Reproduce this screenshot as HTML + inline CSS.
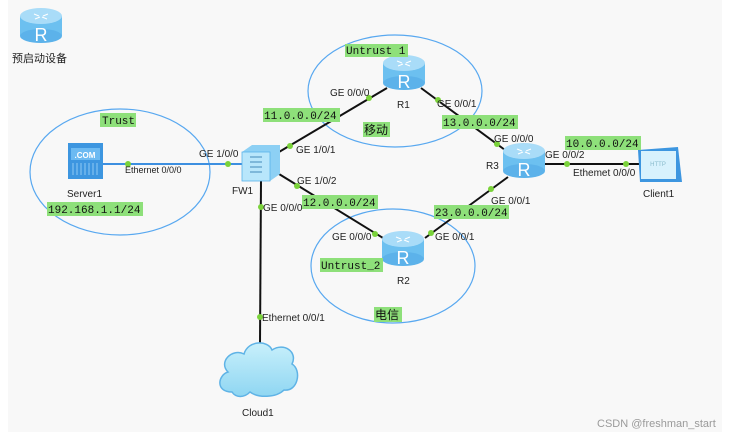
<!DOCTYPE html>
<html><head><meta charset="utf-8"><style>
html,body{margin:0;padding:0;background:#fff;}
svg{display:block;}
text{font-family:"Liberation Sans","Noto Sans CJK SC",sans-serif;font-size:10px;fill:#222;}
.m{font-family:"Liberation Mono","Noto Sans CJK SC",monospace;font-size:11px;fill:#111;}
</style></head><body>
<svg width="741" height="439" viewBox="0 0 741 439" xmlns="http://www.w3.org/2000/svg">
<defs>
<linearGradient id="rg" x1="0" y1="0" x2="0" y2="1"><stop offset="0" stop-color="#bfe6fb"/><stop offset="1" stop-color="#4fb0ec"/></linearGradient>
<linearGradient id="cg" x1="0" y1="0" x2="0" y2="1"><stop offset="0" stop-color="#c8f0fb"/><stop offset="1" stop-color="#8fd6f2"/></linearGradient>
<g id="router">
<rect x="0" y="8" width="42" height="20" fill="#6cc0f0"/>
<ellipse cx="21" cy="28" rx="21" ry="7" fill="#5cb2ea"/>
<ellipse cx="21" cy="8" rx="21" ry="8" fill="#a9dcf8"/>
<text x="21" y="33" text-anchor="middle" style="font-size:18px;fill:#fff;font-family:'Liberation Sans',sans-serif">R</text>
<path d="M14 6l5 2M28 6l-5 2M15 11l5-2M27 11l-5-2" stroke="#fff" stroke-width="1"/>
</g>
</defs>
<rect x="8" y="0" width="714" height="432" fill="#f8f8f8"/>

<!-- ellipses -->
<ellipse cx="120" cy="172" rx="90" ry="63" fill="none" stroke="#58a8f0" stroke-width="1.2"/>
<ellipse cx="395" cy="91" rx="87" ry="56" fill="none" stroke="#58a8f0" stroke-width="1.2"/>
<ellipse cx="393" cy="266" rx="82" ry="57" fill="none" stroke="#58a8f0" stroke-width="1.2"/>

<!-- links -->
<line x1="103" y1="164" x2="243" y2="164" stroke="#3d8fe0" stroke-width="2"/>
<line x1="279" y1="152" x2="387" y2="88" stroke="#111" stroke-width="2"/>
<line x1="421" y1="88" x2="505" y2="150" stroke="#111" stroke-width="2"/>
<line x1="545" y1="164" x2="640" y2="164" stroke="#111" stroke-width="2"/>
<line x1="508" y1="177" x2="425" y2="238" stroke="#111" stroke-width="2"/>
<line x1="279" y1="174" x2="383" y2="238" stroke="#111" stroke-width="2"/>
<line x1="261" y1="180" x2="260" y2="343" stroke="#111" stroke-width="2"/>
<g fill="#7ad23a">
<circle cx="128" cy="164" r="3"/><circle cx="228" cy="164" r="3"/>
<circle cx="290" cy="146" r="3"/><circle cx="369" cy="98" r="3"/>
<circle cx="438" cy="100" r="3"/><circle cx="497" cy="144" r="3"/>
<circle cx="567" cy="164" r="3"/><circle cx="626" cy="164" r="3"/>
<circle cx="491" cy="189" r="3"/><circle cx="431" cy="233" r="3"/>
<circle cx="297" cy="186" r="3"/><circle cx="375" cy="234" r="3"/>
<circle cx="261" cy="207" r="3"/><circle cx="260" cy="317" r="3"/>
</g>

<!-- devices -->
<use href="#router" x="20" y="8"/>
<use href="#router" x="383" y="55"/>
<use href="#router" x="503" y="143"/>
<use href="#router" x="382" y="231"/>
<!-- server -->
<rect x="68" y="143" width="35" height="36" fill="#3d96e0"/>
<rect x="71" y="148" width="29" height="12" fill="#6cbaf2"/>
<text x="85" y="158" text-anchor="middle" style="font-size:8px;fill:#fff;font-weight:bold">.COM</text>
<path d="M73 163v12M77 163v12M81 163v12M85 163v12M89 163v12M93 163v12M97 163v12" stroke="#8fcaf5" stroke-width="1"/>
<!-- FW -->
<path d="M242 152 L252 145 L280 145 L280 174 L270 181 L242 181Z" fill="#8dd0f4"/>
<rect x="242" y="152" width="28" height="29" fill="#b8e6fb" stroke="#5ab3ea" stroke-width="0.8"/>
<path d="M250 157h12M250 162h12M250 167h12M250 172h12" stroke="#6aa8d0" stroke-width="1.5"/>
<!-- client -->
<path d="M638 150 L678 147 L682 182 L640 182Z" fill="#3d96e0"/>
<rect x="641" y="151" width="35" height="28" fill="#d8f2fd"/>
<text x="658" y="166" text-anchor="middle" style="font-size:6px;fill:#8bc;">HTTP</text>
<!-- cloud -->
<path d="M232 392 C215 392 218 375 228 372 C218 362 232 348 244 354 C248 340 268 340 272 350 C284 342 298 352 292 364 C302 370 298 392 284 390 C276 398 258 398 250 392 C244 398 236 398 232 392Z" fill="url(#cg)" stroke="#5fb3e6" stroke-width="1.5"/>

<!-- labels -->
<text x="12" y="62" style="font-size:11px">预启动设备</text>
<text x="67" y="197">Server1</text>
<text x="232" y="194">FW1</text>
<text x="397" y="108">R1</text>
<text x="486" y="169">R3</text>
<text x="397" y="284">R2</text>
<text x="643" y="197">Client1</text>
<text x="242" y="416">Cloud1</text>

<g style="font-size:9px">
<text x="125" y="173" style="font-size:9px">Ethernet 0/0/0</text>
<text x="199" y="157">GE 1/0/0</text>
<text x="296" y="153">GE 1/0/1</text>
<text x="297" y="184">GE 1/0/2</text>
<text x="263" y="211">GE 0/0/0</text>
<text x="262" y="321">Ethernet 0/0/1</text>
<text x="330" y="96">GE 0/0/0</text>
<text x="437" y="107">GE 0/0/1</text>
<text x="494" y="142">GE 0/0/0</text>
<text x="545" y="158">GE 0/0/2</text>
<text x="573" y="176">Ethemet 0/0/0</text>
<text x="491" y="204">GE 0/0/1</text>
<text x="435" y="240">GE 0/0/1</text>
<text x="332" y="240">GE 0/0/0</text>
</g>

<g fill="#8ee07a">
<rect x="100" y="113" width="36" height="14"/>
<rect x="47" y="202" width="96" height="14"/>
<rect x="345" y="44" width="63" height="13"/>
<rect x="263" y="108" width="77" height="14"/>
<rect x="363" y="122" width="27" height="15"/>
<rect x="442" y="115" width="76" height="14"/>
<rect x="565" y="136" width="76" height="14"/>
<rect x="302" y="195" width="76" height="14"/>
<rect x="434" y="205" width="75" height="14"/>
<rect x="320" y="258" width="63" height="14"/>
<rect x="374" y="307" width="28" height="15"/>
</g>
<text class="m" x="102" y="124">Trust</text>
<text class="m" x="48" y="213">192.168.1.1/24</text>
<text class="m" x="346" y="54">Untrust 1</text>
<text class="m" x="264" y="119">11.0.0.0/24</text>
<text class="m" x="364" y="134" style="font-size:12px">移动</text>
<text class="m" x="443" y="126">13.0.0.0/24</text>
<text class="m" x="566" y="147">10.0.0.0/24</text>
<text class="m" x="303" y="206">12.0.0.0/24</text>
<text class="m" x="435" y="216">23.0.0.0/24</text>
<text class="m" x="321" y="269">Untrust_2</text>
<text class="m" x="375" y="319" style="font-size:12px">电信</text>

<text x="597" y="427" style="font-size:11px;fill:#9a9a9a">CSDN @freshman_start</text>
</svg>
</body></html>
